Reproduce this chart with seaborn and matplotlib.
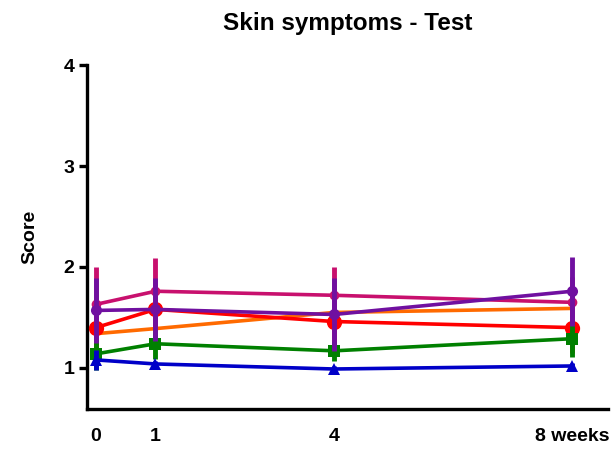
import numpy as np
import pandas as pd
import seaborn as sns
import matplotlib.pyplot as plt

# weeks of follow-up
weeks = [0, 1, 4, 8]
week_labels = ["0", "1", "4", "8 weeks"]

# mean scores per group
orange_mean = [1.34, 1.39, 1.55, 1.59]
red_mean = [1.40, 1.58, 1.46, 1.40]
magenta_mean = [1.63, 1.76, 1.72, 1.65]
green_mean = [1.14, 1.24, 1.17, 1.29]
blue_mean = [1.08, 1.04, 0.99, 1.02]
purple_mean = [1.57, 1.58, 1.53, 1.76]

# error bars (SD)
orange_sd = [0.20, 0.20, 0.20, 0.20]
red_sd = [0.25, 0.25, 0.25, 0.25]
magenta_sd = [0.37, 0.33, 0.28, 0.25]
green_sd = [0.16, 0.15, 0.10, 0.18]
blue_sd = [0.10, 0.03, 0.03, 0.03]
purple_sd = [0.32, 0.31, 0.36, 0.34]

sns.set_style("ticks")
plt.rcParams['font.family'] = ['Liberation Sans', 'DejaVu Sans']
plt.rcParams['font.weight'] = 'bold'
plt.rcParams['text.color'] = 'black'
plt.rcParams['axes.labelcolor'] = 'black'
plt.rcParams['axes.edgecolor'] = 'black'
plt.rcParams['xtick.color'] = 'black'
plt.rcParams['ytick.color'] = 'black'

fig = plt.figure(figsize=(6.15, 4.49), dpi=100)
ax = fig.add_axes([0.1415, 0.0891, 0.8471, 0.7661])

series = [
    ("orange", orange_mean, orange_sd, "#FF6A00", None, 0),
    ("red", red_mean, red_sd, "#FF0000", "o", 11),
    ("magenta", magenta_mean, magenta_sd, "#C8106E", "o", 7),
    ("green", green_mean, green_sd, "#008000", "s", 8),
    ("blue", blue_mean, blue_sd, "#0000C8", "^", 8),
    ("purple", purple_mean, purple_sd, "#7010A0", "o", 8),
]

for i, (name, mean, sd, color, marker, msize) in enumerate(series):
    df = pd.DataFrame({"week": weeks, "score": mean})
    ax.errorbar(weeks, mean, yerr=sd, fmt="none", ecolor=color,
                elinewidth=3.5, capsize=0, zorder=2 + i * 2)
    sns.lineplot(data=df, x="week", y="score", color=color, linewidth=2.6,
                 marker=marker, markersize=msize, markeredgewidth=0,
                 ax=ax, zorder=3 + i * 2)

ax.set_xlim(-0.15, 8.6)
ax.set_ylim(0.594, 4)
ax.set_yticks([1, 2, 3, 4])
ax.set_xticks(weeks, week_labels)
ax.set_xticks([0], minor=True)
ax.tick_params(axis="x", which="major", length=0, pad=14, labelsize=14)
ax.tick_params(axis="x", which="minor", length=7, width=2.4)
ax.tick_params(axis="y", length=6, width=2.4, labelsize=14, pad=3)
for lab in ax.get_xticklabels() + ax.get_yticklabels():
    lab.set_fontweight("bold")

for side in ["top", "right"]:
    ax.spines[side].set_visible(False)
for side in ["left", "bottom"]:
    ax.spines[side].set_linewidth(2.4)

ax.set_xlabel("")
ax.set_ylabel("Score", fontsize=14, fontweight="bold", labelpad=18)
ax.set_title("Skin symptoms - Test", fontsize=17.5, fontweight="bold", pad=25)

fig.savefig("out.png", dpi=100)
